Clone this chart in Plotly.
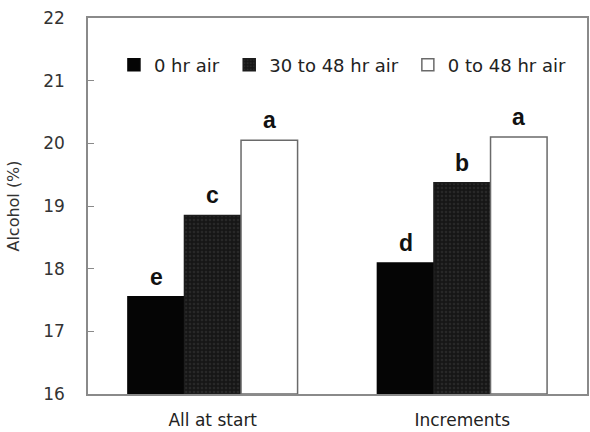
import plotly.graph_objects as go

categories = ["All at start", "Increments"]
series_names = ["0 hr air", "30 to 48 hr air", "0 to 48 hr air"]
v_0hr = [17.55, 18.09]
v_30to48 = [18.85, 19.37]
v_0to48 = [20.05, 20.10]
letters_0hr = ["e", "d"]
letters_30to48 = ["c", "b"]
letters_0to48 = ["a", "a"]
y_ticks = [16, 17, 18, 19, 20, 21, 22]
y_base = 16

series_vals = [v_0hr, v_30to48, v_0to48]
series_letters = [letters_0hr, letters_30to48, letters_0to48]
fill_colors = ["#050505", "#1c1c1c", "#ffffff"]
line_colors = ["#050505", "#1c1c1c", "#6a6a6a"]
legend_ids = ["legend", "legend2", "legend3"]
legend_x = [0.052, 0.283, 0.641]
bargap = 0.32

FONT = "DejaVu Sans"

fig = go.Figure()
for j, (name, vals, fc, lc) in enumerate(zip(series_names, series_vals, fill_colors, line_colors)):
    marker = dict(color=fc, line=dict(color=lc, width=1.5))
    if j == 1:
        marker["pattern"] = dict(shape=".", fgcolor="#3a3a3a", bgcolor="#161616", size=4, solidity=0.35)
    fig.add_trace(go.Bar(
        x=categories, y=[v - y_base for v in vals], base=y_base, name=name,
        marker=marker, legend=legend_ids[j],
    ))

# significance letters above bars (positions derived from group layout)
n = len(series_names)
bar_w = (1 - bargap) / n
for j, (vals, labs) in enumerate(zip(series_vals, series_letters)):
    for i, (v, t) in enumerate(zip(vals, labs)):
        fig.add_annotation(
            x=i + (j - (n - 1) / 2) * bar_w, y=v, xref="x", yref="y",
            text=f"<b>{t}</b>", showarrow=False, yanchor="bottom", yshift=5,
            font=dict(family="Liberation Sans, Arial", size=23, color="#111111"),
        )

legend_style = dict(orientation="h", y=0.875, xanchor="left", yanchor="middle",
                    bgcolor="rgba(0,0,0,0)", font=dict(family=FONT, size=18, color="#222222"))

fig.update_layout(
    width=590, height=432, autosize=False,
    margin=dict(l=88, r=3, t=18, b=38),
    paper_bgcolor="white", plot_bgcolor="white",
    barmode="group", bargap=bargap, bargroupgap=0,
    font=dict(family=FONT, size=17, color="#333333"),
    showlegend=True,
    legend=dict(x=legend_x[0], **legend_style),
    legend2=dict(x=legend_x[1], **legend_style),
    legend3=dict(x=legend_x[2], **legend_style),
)
fig.update_xaxes(showline=True, linecolor="#8a8a8a", linewidth=1.5, mirror=True,
                 ticks="", ticklabelstandoff=10, automargin=False,
                 tickfont=dict(family=FONT, size=17, color="#222222"))
fig.update_yaxes(range=[16, 22], tickvals=y_ticks, showgrid=False, zeroline=False,
                 showline=True, linecolor="#8a8a8a", linewidth=1.5, mirror=True,
                 ticks="inside", ticklen=6, tickcolor="#8a8a8a", ticklabelstandoff=18,
                 automargin=False,
                 tickfont=dict(family=FONT, size=17, color="#333333"),
                 title=dict(text="Alcohol (%)", font=dict(family=FONT, size=16, color="#333333"),
                            standoff=20))
fig.write_html("out.html", default_width="590px", default_height="432px",
               config={"displayModeBar": False},
               post_script="document.body.style.margin='0';document.body.style.overflow='hidden';")
